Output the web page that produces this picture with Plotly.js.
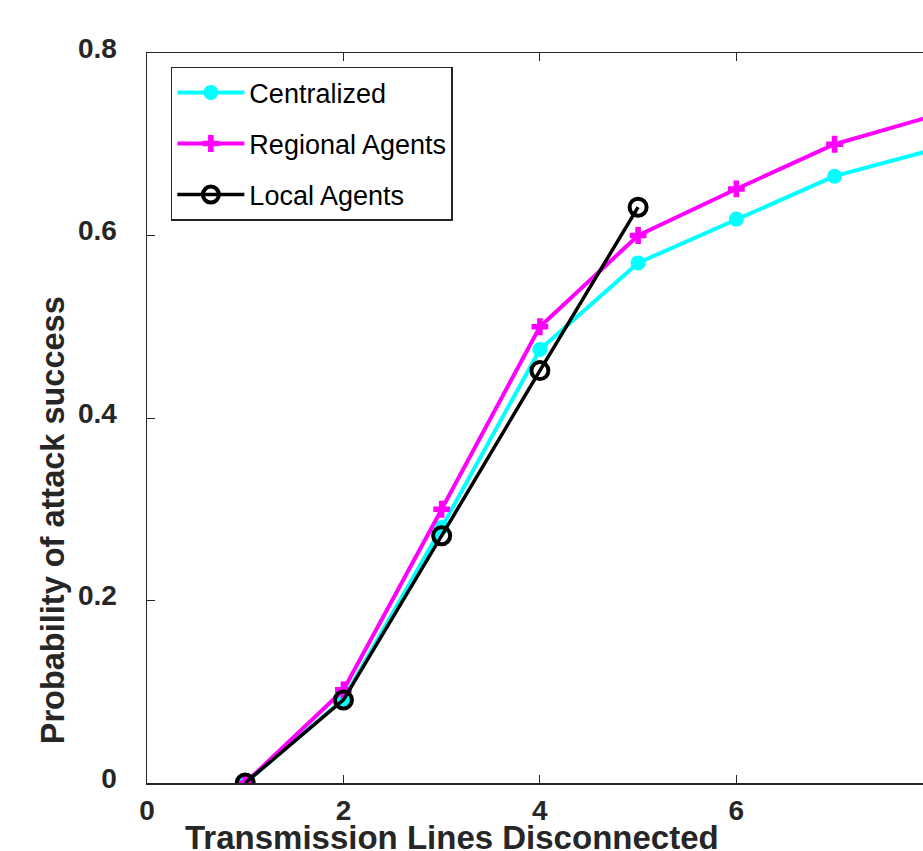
<!DOCTYPE html>
<html>
<head>
<meta charset="utf-8">
<script src="https://cdn.plot.ly/plotly-3.0.1.min.js"></script>
<style>
html,body{margin:0;padding:0;overflow:hidden;background:#fff;width:923px;height:851px;}
#chart{width:1031px;height:851px;}
</style>
</head>
<body>
<div id="chart"></div>
<script>
const xLines = [1, 2, 3, 4, 5, 6, 7, 8];
const centralized = [0.0, 0.092, 0.28, 0.475, 0.570, 0.618, 0.665, 0.694];
const regional = [0.0, 0.102, 0.30, 0.50, 0.60, 0.651, 0.70, 0.731];
const xLocal = [1, 2, 3, 4, 5];
const localAgents = [0.0, 0.091, 0.271, 0.452, 0.631];
const seriesNames = ["Centralized", "Regional Agents", "Local Agents"];
const xTicks = [0, 2, 4, 6, 8];
const yTicks = [0, 0.2, 0.4, 0.6, 0.8];
const yTickText = ["0", "0.2", "0.4", "0.6", "0.8"];

const traces = [
  {x: xLines, y: centralized, name: seriesNames[0], mode: "lines+markers", legendgroup: "a",
   line: {color: "#00FFFF", width: 4}, marker: {symbol: "circle", size: 15, color: "#00FFFF"}},
  {x: xLines, y: regional, name: seriesNames[1], mode: "lines+markers", legendgroup: "b",
   line: {color: "#FF00FF", width: 4}, marker: {symbol: "cross", size: 14, color: "#FF00FF"}},
  {x: xLocal, y: localAgents, name: seriesNames[2], mode: "lines+markers", legendgroup: "c",
   line: {color: "#000000", width: 3.5}, marker: {symbol: "circle-open", size: 17, color: "#000000", line: {width: 4, color: "#000000"}}}
];

const font = "'Liberation Sans', Arial, Helvetica, sans-serif";
const layout = {
  width: 1031, height: 851,
  margin: {l: 147, r: 0, t: 53, b: 68},
  paper_bgcolor: "#fff", plot_bgcolor: "#fff",
  showlegend: true,
  font: {family: font, color: "#262626"},
  xaxis: {
    range: [0, 9], tickvals: xTicks, ticktext: xTicks.map(String),
    showgrid: false, zeroline: false, showline: true, mirror: "ticks",
    linecolor: "#262626", linewidth: 1.5, ticks: "inside", ticklen: 8, tickcolor: "#262626",
    ticklabelstandoff: 2,
    tickfont: {family: font, size: 28, color: "#262626", weight: "bold"}
  },
  yaxis: {
    range: [0, 0.8], tickvals: yTicks, ticktext: yTickText,
    showgrid: false, zeroline: false, showline: true, mirror: "ticks",
    linecolor: "#262626", linewidth: 1.5, ticks: "inside", ticklen: 8, tickcolor: "#262626",
    ticklabelstandoff: 23, ticklabelshift: -5,
    tickfont: {family: font, size: 28, color: "#262626", weight: "bold"}
  },
  legend: {
    x: 0.027, y: 0.981, xanchor: "left", yanchor: "top",
    bgcolor: "#fff", bordercolor: "#262626", borderwidth: 1.5,
    font: {family: font, size: 27, color: "#000"},
    tracegroupgap: 13, itemwidth: 67
  },
  annotations: [
    {text: "<b>Transmission Lines Disconnected</b>", xref: "paper", yref: "paper",
     x: 0.345, y: -0.074, xanchor: "center", yanchor: "middle", showarrow: false,
     font: {family: font, size: 33, color: "#262626"}},
    {text: "<b>Probability of attack success</b>", xref: "paper", yref: "paper",
     x: -0.1063, y: 0.36, xanchor: "center", yanchor: "middle", showarrow: false, textangle: -90,
     font: {family: font, size: 32.5, color: "#262626"}}
  ]
};

Plotly.newPlot("chart", traces, layout, {displayModeBar: false, staticPlot: true});
</script>
</body>
</html>
